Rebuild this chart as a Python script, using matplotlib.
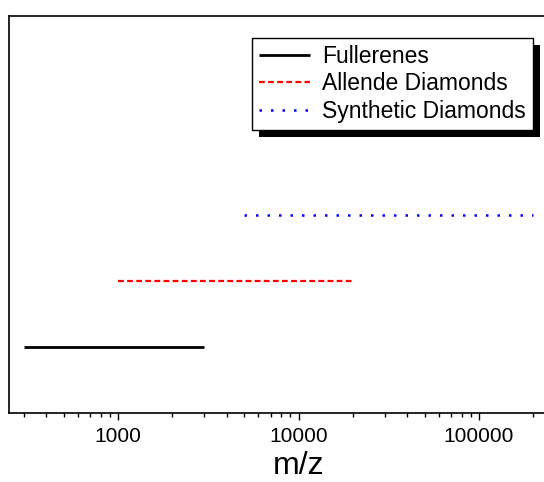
import numpy as np
import matplotlib
matplotlib.use("Agg")
import matplotlib.pyplot as plt
from matplotlib.patches import Rectangle
from matplotlib.ticker import LogLocator, NullFormatter, FixedLocator, FixedFormatter

plt.rcParams['font.family'] = ['Liberation Sans', 'DejaVu Sans']

# Data: mass ranges (m/z) for each sample type
series_names = ["Fullerenes", "Allende Diamonds", "Synthetic Diamonds"]
mz_start = [300, 1000, 5000]
mz_end = [3000, 20000, 200000]
levels = [1, 2, 3]
tick_values = [1000, 10000, 100000]
tick_labels = ["1000", "10000", "100000"]

W, H = 544, 482
fig = plt.figure(figsize=(W / 100, H / 100), dpi=100)

# axes geometry in pixels (right side runs off the figure)
left_px, top_px, bottom_px = 9.4, 16, 413
decade_px = 180.5
x1000_px = 118
xmin = 10 ** (3 - (x1000_px - left_px) / decade_px)
xmax = 4e5
right_px = x1000_px + decade_px * np.log10(xmax / 1000)
ax = fig.add_axes([left_px / W, (H - bottom_px) / H,
                   (right_px - left_px) / W, (bottom_px - top_px) / H])

styles = [
    dict(color="black", lw=2.0, linestyle="-"),
    dict(color="#ff0000", lw=1.6, linestyle=(0, (2.6, 1.5))),
    dict(color="#0000ff", lw=1.8, linestyle=(0, (1.0, 3.6))),
]
for name, s, e, y, st in zip(series_names, mz_start, mz_end, levels, styles):
    ax.plot([s, e], [y, y], label=name, solid_capstyle="butt", dash_capstyle="butt", **st)

ax.set_xscale("log")
ax.set_xlim(xmin, xmax)
ax.set_ylim(0, 6)
ax.set_yticks([])
ax.xaxis.set_major_locator(FixedLocator(tick_values))
ax.xaxis.set_major_formatter(FixedFormatter(tick_labels))
ax.xaxis.set_minor_locator(LogLocator(base=10, subs=range(2, 10), numticks=20))
ax.xaxis.set_minor_formatter(NullFormatter())
ax.tick_params(axis="x", which="major", direction="out", length=5, width=1.0,
               labelsize=15, pad=5, top=False)
ax.tick_params(axis="x", which="minor", direction="out", length=3, width=1.0, top=False)
for sp in ax.spines.values():
    sp.set_linewidth(1.2)

ax.set_xlabel("m/z", fontsize=23, labelpad=4)

leg = ax.legend(loc="upper left", bbox_to_anchor=(252 / W, (H - 38) / H),
                bbox_transform=fig.transFigure, borderaxespad=0,
                fancybox=False, framealpha=1, edgecolor="black",
                fontsize=16.5, handlelength=2.25, handletextpad=0.5,
                labelspacing=0.2, borderpad=0.3)
leg.get_frame().set_linewidth(1.0)
leg.set_zorder(6)

fig.canvas.draw()
bb = leg.get_frame().get_window_extent(fig.canvas.get_renderer())
off = 7
shadow = Rectangle(((bb.x0 + off) / W, (bb.y0 - off) / H), bb.width / W, bb.height / H,
                   transform=fig.transFigure, facecolor="black", edgecolor="none",
                   zorder=5.5, clip_on=False)
ax.add_artist(shadow)

fig.savefig("out.png", dpi=100)
